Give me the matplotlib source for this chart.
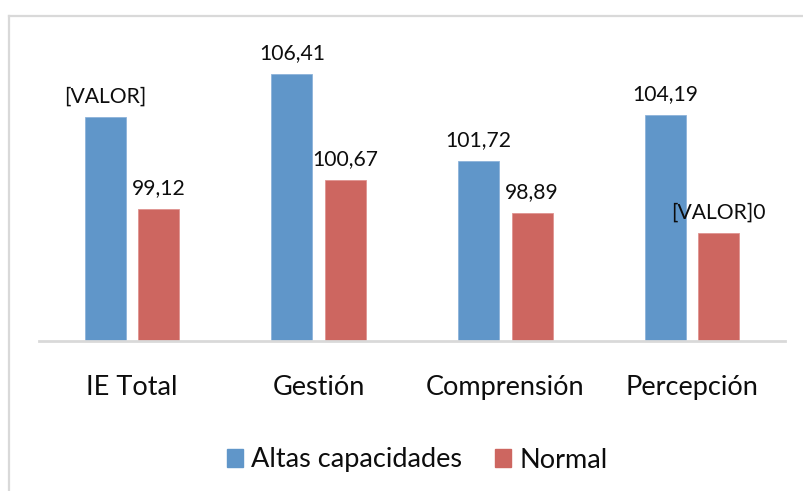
import matplotlib
matplotlib.use("Agg")
import matplotlib.pyplot as plt
from matplotlib.lines import Line2D
from matplotlib.patches import Patch
import numpy as np

categories = ["IE Total", "Gestión", "Comprensión", "Percepción"]
series_names = ["Altas capacidades", "Normal"]
altas = [104.08, 106.41, 101.72, 104.19]
normal = [99.12, 100.67, 98.89, 97.80]
altas_labels = ["[VALOR]", "106,41", "101,72", "104,19"]
normal_labels = ["99,12", "100,67", "98,89", "[VALOR]0"]

blue = "#6096C9"
red = "#CD6660"
grid_gray = "#D9D9D9"

plt.rcParams['font.family'] = ['Lato', 'DejaVu Sans']

W, H = 804, 491
fig = plt.figure(figsize=(W / 100, H / 100), dpi=100)

# outer frame (light gray, top and left visible)
fig.add_artist(Line2D([9 / W, 1.0], [1 - 16 / H, 1 - 16 / H], transform=fig.transFigure,
                      color=grid_gray, lw=1.6))
fig.add_artist(Line2D([9 / W, 9 / W], [0, 1 - 16 / H], transform=fig.transFigure,
                      color=grid_gray, lw=1.6))

ax_left, ax_right = 38.6, 785.4
y_base, y_top = 340.5, 20.0
ax = fig.add_axes([ax_left / W, (H - y_base) / H, (ax_right - ax_left) / W, (y_base - y_top) / H])

x = np.arange(len(categories))
off = 0.143
bw = 0.22
ax.bar(x - off, altas, bw, bottom=0, color=blue, edgecolor="#8DB3DA", linewidth=0.6)
ax.bar(x + off, normal, bw, bottom=0, color=red, edgecolor="#E09490", linewidth=0.6)

ax.set_xlim(-0.5, 3.5)
ax.set_ylim(92, 92 + (y_base - y_top) / 18.48)

for xi, v, t in zip(x - off, altas, altas_labels):
    ax.annotate(t, xy=(xi, v), xytext=(0, 10.8), textcoords="offset points",
                ha="center", va="baseline", fontsize=15.2, color="#0D0D0D")
for xi, v, t in zip(x + off, normal, normal_labels):
    ax.annotate(t, xy=(xi, v), xytext=(0, 10.8), textcoords="offset points",
                ha="center", va="baseline", fontsize=15.2, color="#0D0D0D")

for s in ["top", "left", "right"]:
    ax.spines[s].set_visible(False)
ax.spines["bottom"].set_color(grid_gray)
ax.spines["bottom"].set_linewidth(2.0)
ax.set_yticks([])
ax.set_xticks(x)
ax.set_xticklabels(categories, fontsize=19.5, color="#0D0D0D")
ax.tick_params(axis="x", length=0, pad=25)

handles = [Patch(facecolor=blue, edgecolor=blue), Patch(facecolor=red, edgecolor=red)]
fig.legend(handles, series_names, loc="center", bbox_to_anchor=(417 / W, 1 - 460 / H),
           ncol=2, frameon=False, fontsize=19.5, handlelength=0.6, handleheight=0.6,
           handletextpad=0.3, columnspacing=1.2, labelcolor="#0D0D0D")

fig.savefig("out.png", dpi=100)
